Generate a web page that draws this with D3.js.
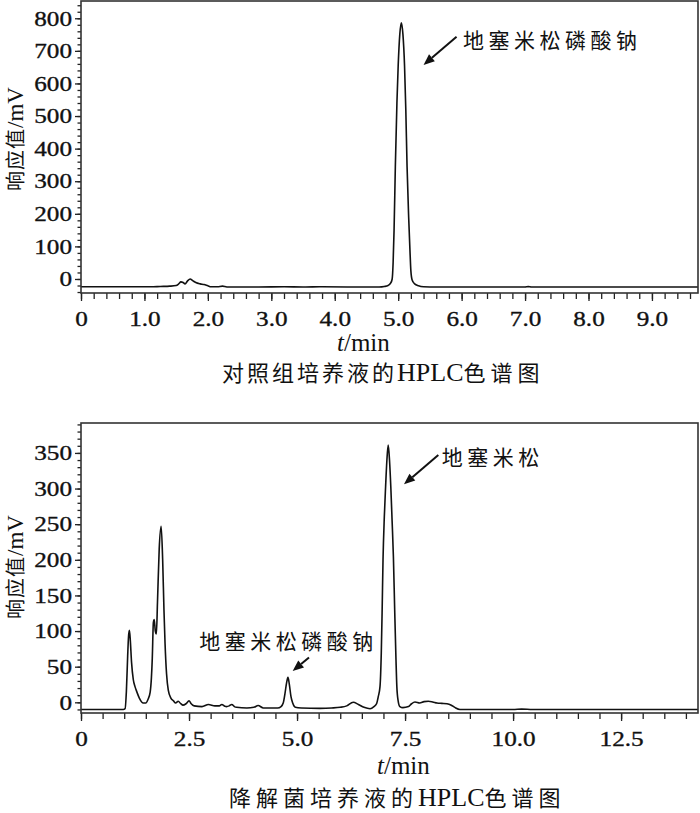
<!DOCTYPE html>
<html><head><meta charset="utf-8">
<script src="https://cdn.jsdelivr.net/npm/d3@7"></script>
<style>body{margin:0;background:#fff} svg{display:block}</style>
</head><body>
<svg id="c" width="700" height="813"></svg>
<script>
// ---- data: control culture (top) ----
const topTime   = [0,1.10,1.25,1.40,1.50,1.54,1.575,1.61,1.64,1.68,1.72,1.76,1.81,1.88,1.94,2.00,2.05,2.15,2.23,2.30,2.80,3.20,3.50,3.80,4.20,4.60,
  4.70,4.78,4.84,4.88,4.905,4.92,4.935,4.955,4.98,5.00,5.025,5.05,5.075,5.10,5.12,5.14,5.165,5.185,5.20,5.22,5.26,5.32,5.40,5.50,7.00,7.05,7.10,9.726];
const topSignal = [-24,-24,-23,-22,-20,-15,-9,-11,-15,-6,0,-5,-11,-15,-17,-21,-24,-24,-22,-24.5,-24.5,-24,-24.5,-24,-24.5,-24.5,
  -24.5,-23,-20,-13,0,50,150,344,540,655,750,786,750,655,520,344,190,90,25,-3,-15,-21,-24,-24.5,-24.5,-23.5,-24.5,-24.5];
// ---- data: degrading-strain culture (bottom) ----
const botTime   = [0,0.98,1.02,1.05,1.08,1.10,1.12,1.14,1.17,1.21,1.25,1.29,1.35,1.44,1.50,1.55,1.60,1.63,1.65,1.675,1.695,1.72,1.745,1.77,1.81,1.855,1.89,1.92,1.945,1.98,2.02,2.08,2.14,2.19,
  2.25,2.31,2.36,2.43,2.50,2.55,2.62,2.80,2.95,3.10,3.20,3.26,3.33,3.37,3.43,3.49,3.55,3.60,3.84,4.00,4.10,4.22,4.55,4.63,4.68,4.72,4.76,4.79,4.82,4.86,4.90,4.96,5.10,5.53,5.80,6.00,6.15,6.30,6.42,6.55,6.69,6.78,
  6.84,6.88,6.92,6.95,6.97,6.99,7.02,7.05,7.08,7.11,7.14,7.17,7.20,7.23,7.26,7.29,7.31,7.34,7.38,7.45,7.58,7.65,7.73,7.84,7.94,8.04,8.14,8.24,8.35,8.47,8.57,8.66,8.77,10.0,10.2,10.45,14.28];
const botSignal = [-10,-10,-9,15,65,92,101,88,56,32,22,15,6,-1,-1,4,14,35,62,112,116,100,96,140,215,247,200,130,83,40,17,6,2,-1,
  1.5,-2,-4,-2,2,-2,-5,-6,-3,-5,-5,-3,-5.5,-6,-5,-3,-6,-7,-8,-7,-4.5,-8,-8,-6,-1,12,28,35,26,8,-1,-7,-8,-8.5,-8,-7,-5,0,-3,-7,-9,-6,
  -2,8,22,70,130,200,260,303,340,361,340,303,255,205,130,60,22,2,-6,-7.5,-6,-2,0.5,-1,1,1.5,0.5,-1,-1.5,-2,-4,-7.5,-10,-10,-9.5,-10,-10];
// ---- ticks ----
const topXTicks  = [0,1,2,3,4,5,6,7,8,9];
const topXLabels = ["0","1.0","2.0","3.0","4.0","5.0","6.0","7.0","8.0","9.0"];
const topYTicks  = [0,100,200,300,400,500,600,700,800];
const botXTicks  = [0,2.5,5,7.5,10,12.5];
const botXLabels = ["0","2.5","5.0","7.5","10.0","12.5"];
const botYTicks  = [0,50,100,150,200,250,300,350];

const svg = d3.select("#c");
const CJK = "'Noto Sans CJK SC', 'Noto Sans', sans-serif";
const SERIF = "'Liberation Serif', 'DejaVu Serif', serif";

function panel(o) {
  const x = d3.scaleLinear().domain(o.xDomain).range([81, 698]);
  const y = d3.scaleLinear().domain(o.yDomain).range([o.bottom, o.top]);
  const g = svg.append("g");
  const id = "clip" + o.top;
  g.append("clipPath").attr("id", id).append("rect")
    .attr("x", 81).attr("y", o.top).attr("width", 617).attr("height", o.bottom - o.top);

  const pts = o.t.map((t, i) => [t, o.v[i]]);
  g.append("path").datum(pts)
    .attr("clip-path", `url(#${id})`)
    .attr("fill", "none").attr("stroke", "#111").attr("stroke-width", 1.6)
    .attr("stroke-linejoin", "round")
    .attr("d", d3.line().x(d => x(d[0])).y(d => y(d[1])).curve(d3.curveMonotoneX));

  // minor ticks
  g.append("g").attr("transform", `translate(81,0)`)
    .call(d3.axisLeft(y).tickValues(o.yMinor).tickSize(3.5).tickFormat(""))
    .call(s => s.select(".domain").remove());
  g.append("g").attr("transform", `translate(0,${o.bottom})`)
    .call(d3.axisBottom(x).tickValues(o.xMinor).tickSize(6).tickFormat(""))
    .call(s => s.select(".domain").remove());
  // major ticks
  const ya = g.append("g").attr("transform", `translate(81,0)`)
    .call(d3.axisLeft(y).tickValues(o.yTicks).tickSize(6).tickPadding(3).tickFormat(d3.format("d")))
    .call(s => s.select(".domain").remove());
  const xa = g.append("g").attr("transform", `translate(0,${o.bottom})`)
    .call(d3.axisBottom(x).tickValues(o.xTicks).tickSize(8).tickPadding(10).tickFormat((d, i) => o.xLabels[i]))
    .call(s => s.select(".domain").remove());
  [ya, xa].forEach(a => {
    a.selectAll("text").attr("font-family", SERIF).attr("font-size", 21).attr("fill", "#111")
      .attr("stroke", "#111").attr("stroke-width", 0.35)
      .each(function () {
        const t = d3.select(this); const tx = +t.attr("x") || 0;
        t.attr("x", 0).attr("transform", `translate(${tx},0) scale(1.2,1)`);
      });
  });
  g.selectAll("g.tick line").attr("stroke", "#222").attr("stroke-width", 1.3);

  // frame
  g.append("rect").attr("x", 81).attr("y", o.top).attr("width", 617).attr("height", o.bottom - o.top)
    .attr("fill", "none").attr("stroke", "#333").attr("stroke-width", 1.6);

  // y label
  const yl = g.append("text").attr("transform", `translate(23,${o.yLabelY}) rotate(-90)`)
    .attr("text-anchor", "middle").attr("fill", "#111");
  yl.append("tspan").attr("font-family", CJK).attr("font-size", 20).attr("letter-spacing", 1).text("响应值");
  yl.append("tspan").attr("font-family", SERIF).attr("font-size", 23).text("/mV");

  // x label
  const xl = g.append("text").attr("x", o.xLabelX).attr("y", o.xLabelY).attr("fill", "#111")
    .attr("font-family", SERIF).attr("font-size", 25);
  xl.append("tspan").attr("font-style", "italic").text("t");
  xl.append("tspan").text("/min");

  // caption
  const cap = g.append("text").attr("x", o.capX).attr("y", o.capY).attr("fill", "#111");
  cap.append("tspan").attr("font-family", CJK).attr("font-size", 22).attr("letter-spacing", o.capLS).text(o.cap1);
  cap.append("tspan").attr("font-family", SERIF).attr("font-size", 26).attr("letter-spacing", 0).text("HPLC");
  cap.append("tspan").attr("font-family", CJK).attr("font-size", 22).attr("letter-spacing", 5).text("色谱图");

  // annotations
  o.notes.forEach(n => {
    g.append("text").attr("x", x(n.lt)).attr("y", y(n.lv)).attr("fill", "#111")
      .attr("font-family", CJK).attr("font-size", 21).attr("letter-spacing", 4.5).text(n.text);
    const x1 = x(n.a0[0]), y1 = y(n.a0[1]), x2 = x(n.a1[0]), y2 = y(n.a1[1]);
    const ang = Math.atan2(y2 - y1, x2 - x1), L = 11, W = 4.5;
    const bx = x2 - L * Math.cos(ang), by = y2 - L * Math.sin(ang);
    g.append("line").attr("x1", x1).attr("y1", y1).attr("x2", bx).attr("y2", by)
      .attr("stroke", "#111").attr("stroke-width", 2);
    g.append("path").attr("fill", "#111")
      .attr("d", `M${x2},${y2}L${bx + W * Math.sin(ang)},${by - W * Math.cos(ang)}L${bx - W * Math.sin(ang)},${by + W * Math.cos(ang)}Z`);
  });
}

panel({
  t: topTime, v: topSignal, xDomain: [0, 9.726], yDomain: [-43, 853], top: 1, bottom: 293,
  xTicks: topXTicks, xLabels: topXLabels, yTicks: topYTicks,
  xMinor: d3.range(0, 9.7, 0.2), yMinor: d3.range(-40, 853, 20),
  yLabelY: 139, xLabelX: 337, xLabelY: 351,
  capX: 222, capY: 381, capLS: 3, cap1: "对照组培养液的",
  notes: [{ text: "地塞米松磷酸钠", lt: 6.02, lv: 709, a0: [5.92, 743], a1: [5.40, 657] }]
});
panel({
  t: botTime, v: botSignal, xDomain: [0, 14.28], yDomain: [-15, 392], top: 423, bottom: 713,
  xTicks: botXTicks, xLabels: botXLabels, yTicks: botYTicks,
  xMinor: d3.range(0, 14.26, 0.5), yMinor: d3.range(-10, 392, 10),
  yLabelY: 567, xLabelX: 377, xLabelY: 774,
  capX: 229, capY: 806, capLS: 5, cap1: "降解菌培养液的",
  notes: [
    { text: "地塞米松", lt: 8.35, lv: 333, a0: [8.27, 347], a1: [7.475, 306] },
    { text: "地塞米松磷酸钠", lt: 2.738, lv: 75, a0: [5.277, 63], a1: [4.899, 44] }
  ]
});
</script>
</body></html>
